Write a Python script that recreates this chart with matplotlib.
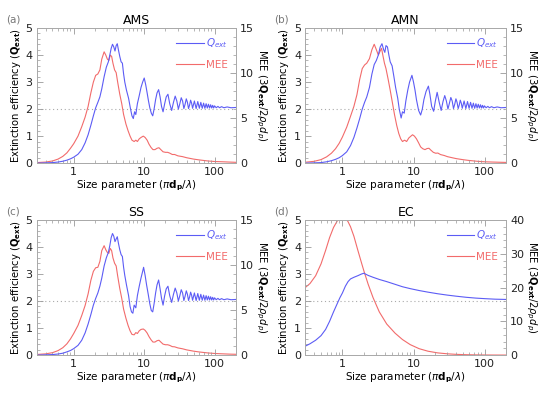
"""Mie extinction efficiency and MEE panels (AMS, AMN, SS, EC)."""
import matplotlib
matplotlib.use('Agg')
import matplotlib.pyplot as plt
from matplotlib.ticker import MultipleLocator, LogLocator, NullFormatter, FixedLocator

BLUE = '#5c5cf5'
RED = '#f26b6b'

# ---- (a) AMS ----
ams_x = [0.3, 0.4, 0.5, 0.6, 0.7, 0.8, 0.9, 1.0, 1.15, 1.3, 1.45, 1.6, 1.75, 1.9, 2.05, 2.2, 2.35,
         2.5, 2.7, 2.9, 3.1, 3.25, 3.4, 3.55, 3.7, 3.85, 4.0, 4.15, 4.3, 4.5, 4.7, 4.9, 5.1, 5.3,
         5.6, 6.0, 6.4, 6.7, 7.0, 7.3, 7.6, 8.0, 8.5, 9.0, 9.5, 10.0, 10.5, 11.0, 11.5, 12.0, 12.6,
         13.2, 13.8, 14.5, 15.2, 16.0, 16.8, 17.6, 18.5, 19.5, 20.5, 21.7, 23.0, 24.5, 26.0, 27.5,
         29.0, 30.5, 32, 33.5, 35, 36.5, 38, 39.5, 41, 42.5, 44, 45.5, 47, 48.5, 51.5, 54.5, 57.5,
         60.5, 63.5, 66.5, 69.5, 72.5, 75.5, 78.5, 81.5, 84.5, 87.5, 90.5, 93.5, 96.5, 99.5, 105,
         111, 117, 125, 135, 150, 170, 200]
ams_q = [0.0, 0.01, 0.02, 0.04, 0.07, 0.11, 0.16, 0.22, 0.33, 0.5, 0.75, 1.05, 1.4, 1.75, 2.05, 2.25,
         2.45, 2.75, 3.2, 3.55, 3.75, 4.0, 4.25, 4.4, 4.3, 4.15, 4.35, 4.42, 4.2, 3.95, 3.75, 3.7,
         3.3, 3.0, 2.7, 2.4, 2.0, 1.75, 1.65, 1.9, 1.8, 2.2, 2.5, 2.8, 3.0, 3.15, 2.9, 2.6, 2.3,
         2.05, 1.85, 1.75, 2.0, 2.35, 2.6, 2.72, 2.45, 2.1, 1.9, 2.2, 2.45, 2.55, 2.2, 1.95, 2.25,
         2.48, 2.3, 2.0, 2.2, 2.42, 2.3, 2.02, 2.18, 2.38, 2.25, 2.02, 2.15, 2.33, 2.22, 2.03, 2.3,
         2.02, 2.28, 2.03, 2.25, 2.03, 2.22, 2.03, 2.2, 2.04, 2.18, 2.04, 2.16, 2.04, 2.14, 2.04,
         2.12, 2.05, 2.1, 2.05, 2.09, 2.05, 2.08, 2.05, 2.06]
ams_mee_x = [0.3, 0.4, 0.5, 0.6, 0.7, 0.8, 0.9, 1.0, 1.15, 1.3, 1.45, 1.6, 1.75, 1.9, 2.05, 2.2,
             2.35, 2.5, 2.7, 2.85, 3.0, 3.15, 3.3, 3.45, 3.6, 3.8, 4.0, 4.2, 4.5, 4.8, 5.1, 5.5, 5.9,
             6.3, 6.7, 7.2, 7.6, 8.0, 8.5, 9.0, 9.7, 10.3, 11, 11.7, 12.5, 13.3, 14.2, 15.2, 16.2,
             17.2, 18.5, 20, 21.5, 23, 25, 27, 30, 35, 40, 50, 60, 80, 100, 130, 160, 200]
ams_mee = [0.06, 0.12, 0.24, 0.45, 0.75, 1.14, 1.65, 2.16, 3.0, 4.05, 5.1, 6.3, 7.8, 9.0, 9.75,
           9.9, 10.35, 11.55, 12.36, 12.0, 11.55, 11.4, 12.0, 11.85, 11.1, 10.35, 10.05, 9.0, 7.65,
           6.6, 5.4, 4.35, 3.6, 3.0, 2.55, 2.4, 2.55, 2.4, 2.7, 2.85, 3.0, 2.85, 2.55, 2.1, 1.74,
           1.5, 1.5, 1.65, 1.71, 1.5, 1.26, 1.2, 1.2, 1.11, 0.96, 0.96, 0.81, 0.72, 0.6, 0.45,
           0.36, 0.24, 0.18, 0.15, 0.12, 0.09]

# ---- (b) AMN ----
amn_x = [0.3, 0.4, 0.5, 0.6, 0.7, 0.8, 0.9, 1.0, 1.15, 1.3, 1.45, 1.6, 1.75, 1.9, 2.05, 2.2, 2.4,
         2.6, 2.8, 3.0, 3.2, 3.4, 3.6, 3.8, 3.95, 4.1, 4.3, 4.5, 4.7, 5.0, 5.3, 5.6, 6.0, 6.3,
         6.7, 7.0, 7.4, 7.8, 8.3, 8.8, 9.5, 10.0, 10.5, 11.0, 11.8, 12.6, 13.3, 14.0, 15.0, 16.2,
         17.0, 18.0, 19.2, 20.3, 21.5, 23.0, 24.5, 26.0, 27.5, 29.0, 30.5, 32, 33.5, 35, 36.5,
         38, 39.5, 41, 42.5, 44, 45.5, 47, 48.5, 51.5, 54.5, 57.5, 60.5, 63.5, 66.5, 69.5, 72.5,
         75.5, 78.5, 81.5, 84.5, 87.5, 90.5, 93.5, 96.5, 99.5, 105, 111, 117, 125, 135, 150, 170,
         200]
amn_q = [0.0, 0.01, 0.02, 0.05, 0.09, 0.14, 0.2, 0.28, 0.42, 0.65, 0.95, 1.3, 1.65, 2.0, 2.25,
         2.45, 2.8, 3.3, 3.65, 3.8, 4.0, 4.3, 4.42, 4.2, 4.1, 4.35, 4.3, 4.0, 3.75, 3.6, 3.2,
         2.8, 2.4, 2.0, 1.67, 1.9, 1.85, 2.3, 2.7, 3.0, 3.25, 3.0, 2.7, 2.35, 1.95, 1.78, 2.0,
         2.35, 2.65, 2.85, 2.55, 2.1, 1.92, 2.3, 2.62, 2.25, 1.95, 2.28, 2.5, 2.3, 2.0, 2.22,
         2.43, 2.3, 2.02, 2.18, 2.38, 2.25, 2.02, 2.15, 2.33, 2.22, 2.03, 2.3, 2.02, 2.28, 2.03,
         2.25, 2.03, 2.22, 2.03, 2.2, 2.04, 2.18, 2.04, 2.16, 2.04, 2.14, 2.04, 2.12, 2.05, 2.1,
         2.05, 2.09, 2.05, 2.08, 2.05, 2.06]
amn_mee_x = [0.3, 0.4, 0.5, 0.6, 0.7, 0.8, 0.9, 1.0, 1.15, 1.3, 1.45, 1.6, 1.75, 1.9, 2.05, 2.2,
             2.4, 2.6, 2.8, 3.0, 3.2, 3.4, 3.55, 3.7, 3.9, 4.1, 4.4, 4.7, 5.0, 5.4, 5.8, 6.2, 6.6,
             7.0, 7.5, 8.0, 8.6, 9.2, 9.7, 10.3, 11, 11.8, 12.6, 13.5, 14.5, 15.5, 16.5, 17.5,
             19, 20.5, 22, 24, 27, 30, 35, 40, 50, 60, 80, 100, 130, 160, 200]
amn_mee = [0.1, 0.2, 0.39, 0.7, 1.1, 1.6, 2.2, 2.9, 4.0, 5.2, 6.3, 7.6, 9.3, 10.5, 10.9, 11.1,
           11.6, 12.6, 13.2, 12.6, 12.0, 12.45, 12.75, 12.0, 11.1, 10.5, 9.3, 8.1, 6.9, 5.4, 4.2,
           3.3, 2.7, 2.4, 2.55, 2.4, 2.8, 3.0, 3.15, 3.0, 2.7, 2.25, 1.8, 1.6, 1.5, 1.62, 1.65,
           1.45, 1.2, 1.1, 1.12, 0.95, 0.85, 0.72, 0.6, 0.5, 0.38, 0.3, 0.2, 0.15, 0.12, 0.1,
           0.08]

# ---- (c) SS ----
ss_x = [0.3, 0.4, 0.5, 0.6, 0.7, 0.8, 0.9, 1.0, 1.15, 1.3, 1.45, 1.6, 1.75, 1.9, 2.05, 2.2, 2.35,
        2.5, 2.7, 2.9, 3.1, 3.25, 3.4, 3.55, 3.7, 3.85, 4.0, 4.15, 4.3, 4.5, 4.7, 4.9, 5.1, 5.3,
        5.6, 6.0, 6.3, 6.6, 6.9, 7.2, 7.6, 8.0, 8.5, 9.0, 9.5, 9.8, 10.3, 10.8, 11.4, 12.0, 12.6,
        13.2, 13.8, 14.5, 15.2, 16.0, 16.8, 17.6, 18.5, 19.5, 20.5, 21.7, 23.0, 24.5, 26.0, 27.5,
        29.0, 30.5, 32, 33.5, 35, 36.5, 38, 39.5, 41, 42.5, 44, 45.5, 47, 48.5, 51.5, 54.5, 57.5,
        60.5, 63.5, 66.5, 69.5, 72.5, 75.5, 78.5, 81.5, 84.5, 87.5, 90.5, 93.5, 96.5, 99.5, 105,
        111, 117, 125, 135, 150, 170, 200]
ss_q = [0.0, 0.01, 0.02, 0.04, 0.07, 0.12, 0.17, 0.24, 0.36, 0.55, 0.82, 1.15, 1.5, 1.85, 2.1,
        2.3, 2.55, 2.85, 3.3, 3.6, 3.8, 4.05, 4.35, 4.5, 4.4, 4.2, 4.3, 4.38, 4.15, 3.9, 3.72,
        3.65, 3.25, 2.95, 2.6, 2.2, 1.8, 1.6, 1.55, 1.85, 1.75, 2.2, 2.55, 2.85, 3.1, 3.25, 2.95,
        2.6, 2.25, 1.9, 1.65, 1.6, 1.9, 2.3, 2.6, 2.78, 2.45, 2.1, 1.85, 2.2, 2.45, 2.55, 2.2,
        1.95, 2.25, 2.48, 2.3, 2.0, 2.2, 2.42, 2.3, 2.02, 2.18, 2.38, 2.25, 2.02, 2.15, 2.33,
        2.22, 2.03, 2.3, 2.02, 2.28, 2.03, 2.25, 2.03, 2.22, 2.03, 2.2, 2.04, 2.18, 2.04, 2.16,
        2.04, 2.14, 2.04, 2.12, 2.05, 2.1, 2.05, 2.09, 2.05, 2.08, 2.05, 2.06]
ss_mee_x = ams_mee_x
ss_mee = [0.07, 0.14, 0.27, 0.5, 0.82, 1.25, 1.8, 2.4, 3.3, 4.4, 5.5, 6.8, 8.3, 9.3, 9.7, 9.75,
          10.4, 11.6, 12.15, 11.7, 11.4, 11.3, 11.85, 11.6, 10.8, 10.2, 9.9, 8.8, 7.4, 6.3, 5.1,
          4.1, 3.3, 2.7, 2.3, 2.25, 2.5, 2.4, 2.7, 2.85, 2.9, 2.75, 2.45, 2.05, 1.7, 1.45, 1.45,
          1.6, 1.65, 1.45, 1.22, 1.15, 1.15, 1.08, 0.94, 0.92, 0.8, 0.7, 0.58, 0.44, 0.35, 0.24,
          0.18, 0.14, 0.11, 0.09]

# ---- (d) EC ----
ec_x = [0.3, 0.35, 0.42, 0.5, 0.58, 0.66, 0.75, 0.85, 0.92, 1.0, 1.1, 1.2, 1.3, 1.45, 1.65, 1.85,
        2.0, 2.3, 2.7, 3.3, 4.2, 5.5, 7.0, 9.0, 12.0, 16.0, 22.0, 30.0, 40.0, 55.0, 75.0, 100.0,
        140.0, 200.0]
ec_q = [0.33, 0.42, 0.55, 0.72, 0.95, 1.25, 1.6, 1.92, 2.12, 2.3, 2.55, 2.72, 2.82, 2.88, 2.94,
        3.0, 3.03, 2.95, 2.88, 2.8, 2.72, 2.62, 2.53, 2.46, 2.39, 2.33, 2.27, 2.22, 2.18, 2.14,
        2.11, 2.09, 2.07, 2.06]
ec_mee = [20.0, 21.2, 23.5, 27.0, 31.0, 34.8, 37.8, 39.8, 40.5, 40.8, 40.6, 39.5, 38.0, 35.2, 31.0,
          27.4, 25.0, 21.0, 17.0, 12.8, 9.2, 6.5, 4.6, 3.1, 1.9, 1.15, 0.65, 0.38, 0.22, 0.12,
          0.07, 0.04, 0.02, 0.01]

panels = [
    ('(a)', 'AMS', ams_x, ams_q, ams_mee_x, ams_mee, 15, [0.067, 0.587, 0.362, 0.342]),
    ('(b)', 'AMN', amn_x, amn_q, amn_mee_x, amn_mee, 15, [0.555, 0.587, 0.365, 0.342]),
    ('(c)', 'SS', ss_x, ss_q, ss_mee_x, ss_mee, 15, [0.067, 0.101, 0.362, 0.342]),
    ('(d)', 'EC', ec_x, ec_q, ec_x, ec_mee, 40, [0.555, 0.101, 0.365, 0.342]),
]

fig = plt.figure(figsize=(5.5, 3.95), dpi=100)
fig.patch.set_facecolor('white')

for tag, name, qx, qv, mx, mv, mee_top, pos in panels:
    ax = fig.add_axes(pos)
    ax2 = ax.twinx()
    ax.set_zorder(ax2.get_zorder() + 1)
    ax.patch.set_visible(False)

    lq, = ax.plot(qx, qv, color=BLUE, lw=0.8, label='$Q_{ext}$')
    lm, = ax2.plot(mx, mv, color=RED, lw=0.8, label='MEE')
    ax.axhline(2, color='#aaaaaa', lw=0.8, ls=(0, (1, 2.5)), zorder=0)

    ax.set_xscale('log')
    ax.set_xlim(0.3, 200)
    ax.set_ylim(0, 5)
    ax2.set_ylim(0, mee_top)
    ax.xaxis.set_major_locator(FixedLocator([1, 10, 100]))
    ax.set_xticklabels(['1', '10', '100'])
    ax.xaxis.set_minor_locator(LogLocator(base=10, subs=range(2, 10)))
    ax.xaxis.set_minor_formatter(NullFormatter())
    ax.yaxis.set_major_locator(MultipleLocator(1))
    ax.yaxis.set_minor_locator(MultipleLocator(0.2))
    ax2.yaxis.set_major_locator(MultipleLocator(5 if mee_top == 15 else 10))
    ax2.yaxis.set_minor_locator(MultipleLocator(1 if mee_top == 15 else 2))

    ax.tick_params(which='both', direction='in', top=True, right=False, colors='#999999',
                   labelcolor='#222222', labelsize=8, pad=3)
    ax.tick_params(which='major', length=4, width=0.6)
    ax.tick_params(which='minor', length=2, width=0.5)
    ax2.tick_params(which='both', direction='in', colors='#999999', labelcolor='#222222',
                    labelsize=8, pad=3)
    ax2.tick_params(which='major', length=4, width=0.6)
    ax2.tick_params(which='minor', length=2, width=0.5)
    for a in (ax, ax2):
        for s in a.spines.values():
            s.set_color('#aaaaaa')
            s.set_linewidth(0.7)

    ax.set_xlabel(r'Size parameter ($\pi\mathbf{d_p}/\lambda$)', fontsize=7.5, labelpad=1)
    ax.set_ylabel(r'Extinction efficiency ($\mathbf{Q_{ext}}$)', fontsize=7.2, labelpad=2)
    ax2.set_ylabel(r'MEE (3$\mathbf{Q_{ext}}$/2$\rho_p d_p$)', fontsize=7.2, rotation=270,
                   labelpad=10)
    ax.set_title(name, fontsize=9, pad=3)
    ax.text(-0.12, 1.06, tag, transform=ax.transAxes, fontsize=7.5, color='#777777',
            ha='center', va='center')

    leg = ax.legend([lq, lm], ['$Q_{ext}$', 'MEE'], loc='upper right', frameon=False,
                    fontsize=7.5, handlelength=2.6, handletextpad=0.2, borderaxespad=0.4,
                    labelspacing=0.9)
    for txt, c in zip(leg.get_texts(), [BLUE, RED]):
        txt.set_color(c)

fig.savefig('out.png', dpi=100, facecolor='white')
print('saved')
